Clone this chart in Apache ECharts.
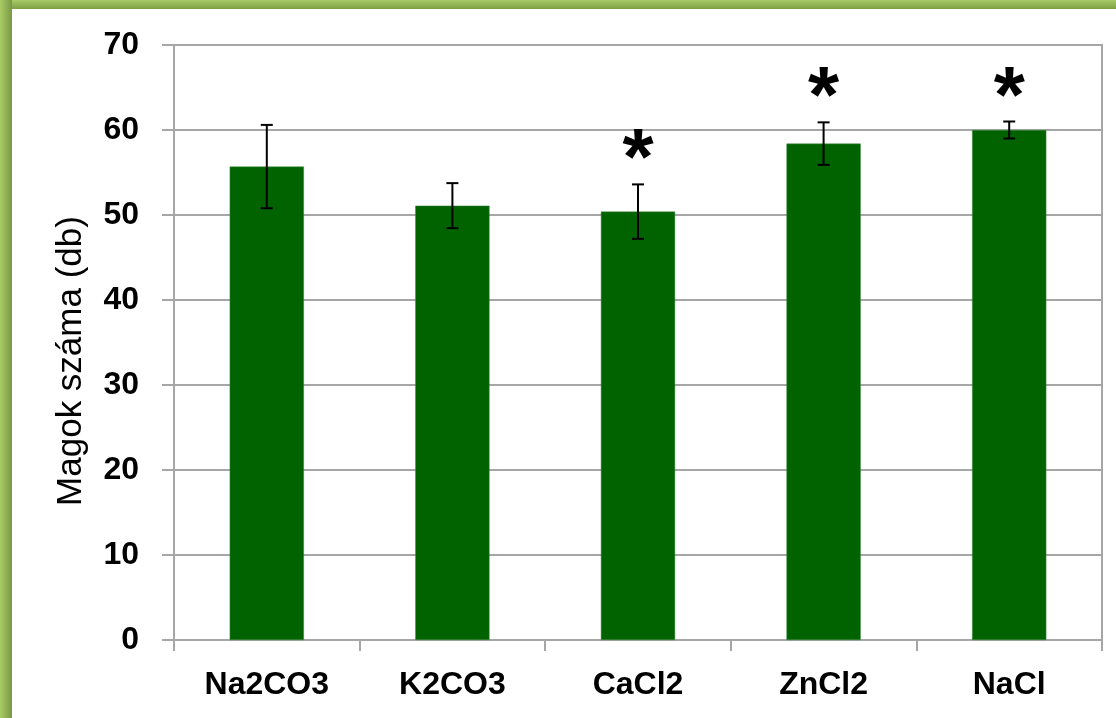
<!DOCTYPE html>
<html>
<head>
<meta charset="utf-8">
<title>Magok száma</title>
<script src="https://cdn.jsdelivr.net/npm/echarts@6/dist/echarts.min.js"></script>
<style>
  html, body { margin: 0; padding: 0; background: #ffffff; }
  #chart { width: 1116px; height: 718px; }
</style>
</head>
<body>
<div id="chart"></div>
<script>
// Seed counts per salt treatment, with standard error and significance marks
const categories = ['Na2CO3', 'K2CO3', 'CaCl2', 'ZnCl2', 'NaCl'];
const means = [55.7, 51.1, 50.4, 58.4, 60.0];
const errors = [4.9, 2.65, 3.2, 2.5, 1.0];
const significant = [false, false, true, true, true];
const yTicks = { min: 0, max: 70, interval: 10 };
const yTitle = 'Magok száma (db)';

const FONT = '"Liberation Sans", Arial, sans-serif';
const GRID = { left: 174, right: 14, top: 45, bottom: 78 };

const chart = echarts.init(document.getElementById('chart'), null, { renderer: 'canvas' });

const errorData = categories.map((c, i) => [i, means[i], errors[i], significant[i] ? 1 : 0]);

chart.setOption({
  animation: false,
  backgroundColor: '#ffffff',
  grid: {
    left: GRID.left, right: GRID.right, top: GRID.top, bottom: GRID.bottom,
    show: true, borderColor: '#a6a6a6', borderWidth: 2, backgroundColor: 'transparent'
  },
  xAxis: {
    type: 'category',
    data: categories,
    axisLine: { lineStyle: { color: '#a6a6a6', width: 2 } },
    axisTick: { show: true, length: 11, alignWithLabel: false, lineStyle: { color: '#a6a6a6', width: 2 } },
    axisLabel: { color: '#000', fontFamily: FONT, fontWeight: 'bold', fontSize: 32, margin: 29 }
  },
  yAxis: {
    type: 'value',
    min: yTicks.min, max: yTicks.max, interval: yTicks.interval,
    axisLine: { show: true, lineStyle: { color: '#a6a6a6', width: 2 } },
    axisTick: { show: true, length: 12, lineStyle: { color: '#a6a6a6', width: 2 } },
    splitLine: { show: true, lineStyle: { color: '#a6a6a6', width: 2 } },
    axisLabel: { color: '#000', fontFamily: FONT, fontWeight: 'bold', fontSize: 32, margin: 35 }
  },
  graphic: [
    // frame along the top edge
    {
      type: 'rect', z: 100,
      shape: { x: 0, y: 0, width: 1116, height: 9 },
      style: { fill: new echarts.graphic.LinearGradient(0, 0, 0, 1, [
        { offset: 0, color: '#a9cc66' }, { offset: 1, color: '#7f9d47' }
      ]) }
    },
    // frame along the left edge
    {
      type: 'rect', z: 101,
      shape: { x: 0, y: 0, width: 12, height: 718 },
      style: { fill: new echarts.graphic.LinearGradient(0, 0, 1, 0, [
        { offset: 0, color: '#a9cc66' }, { offset: 1, color: '#789843' }
      ]) }
    },
    // y-axis title
    {
      type: 'text', z: 50,
      x: 71, y: 361, rotation: Math.PI / 2,
      style: {
        text: yTitle, fill: '#000', font: '35px ' + FONT,
        align: 'center', verticalAlign: 'middle'
      }
    }
  ],
  series: [
    {
      type: 'bar',
      data: means,
      barWidth: '40%',
      itemStyle: { color: '#006300', borderColor: '#3f8a3f', borderWidth: 0.5 },
      z: 2
    },
    {
      type: 'custom',
      data: errorData,
      z: 3,
      renderItem: function (params, api) {
        const i = api.value(0);
        const m = api.value(1);
        const e = api.value(2);
        const top = api.coord([i, m + e]);
        const bot = api.coord([i, m - e]);
        const cap = 6;
        const style = { stroke: '#000', lineWidth: 2 };
        const children = [
          { type: 'line', shape: { x1: top[0], y1: top[1], x2: bot[0], y2: bot[1] }, style },
          { type: 'line', shape: { x1: top[0] - cap, y1: top[1], x2: top[0] + cap, y2: top[1] }, style },
          { type: 'line', shape: { x1: bot[0] - cap, y1: bot[1], x2: bot[0] + cap, y2: bot[1] }, style }
        ];
        if (api.value(3)) {
          children.push({
            type: 'text',
            x: top[0], y: top[1] - 22,
            style: {
              text: '*', fill: '#000', font: 'bold 80px ' + FONT,
              align: 'center', verticalAlign: 'middle'
            }
          });
        }
        return { type: 'group', children };
      }
    }
  ]
});
</script>
</body>
</html>
